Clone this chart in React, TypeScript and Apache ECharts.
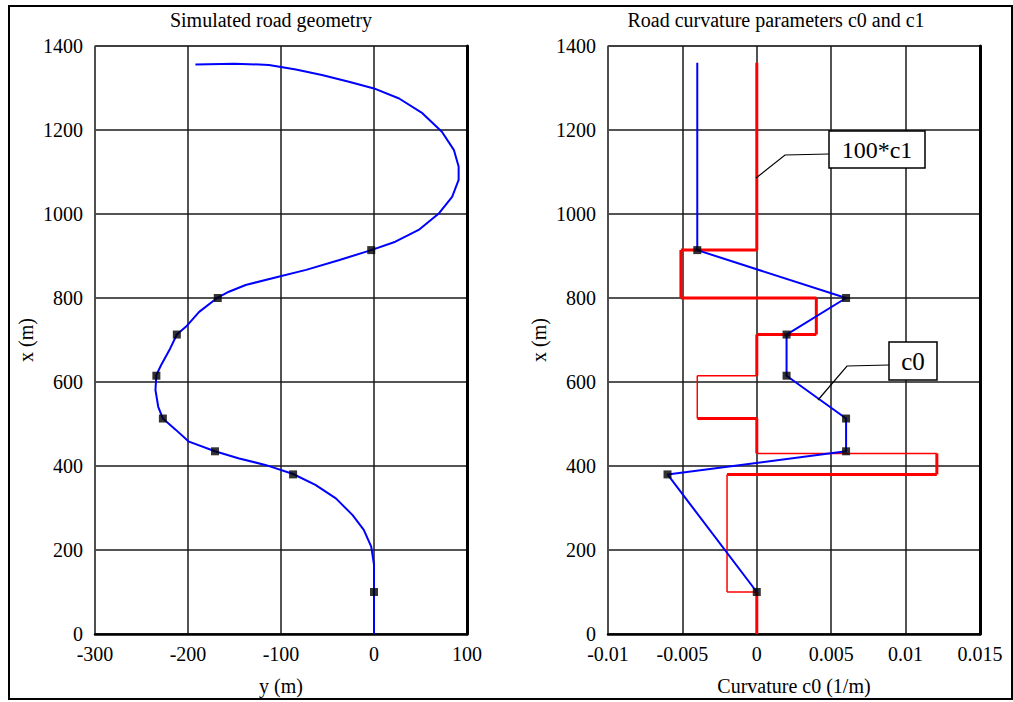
import React, { useEffect, useRef } from "react";
import * as echarts from "echarts";

// ---- Data ----
// Left chart: simulated road geometry, lateral offset y (m) vs distance x (m)
const roadLateral = [
  0, 0, 0, -3, -11, -23, -41, -63, -87, -116, -145, -171, -199, -213, -227, -232, -235,
  -234, -229, -220, -212, -202, -188, -168, -156, -138, -106, -73, -38, -3, 23, 48, 70,
  84, 91, 91, 86, 73, 52, 27, 0, -27, -56, -84, -113, -150, -192,
];
const roadAlong = [
  0, 100, 165, 208, 248, 283, 323, 355, 381, 402, 418, 435, 458, 486, 513, 541, 581,
  617, 640, 676, 713, 732, 767, 801, 815, 831, 849, 867, 890, 914, 934, 962, 1002,
  1041, 1081, 1113, 1152, 1196, 1240, 1275, 1299, 1315, 1331, 1344, 1355, 1358, 1356,
];

// Knot points (black squares)
const knotAlong = [100, 380, 435, 513, 615, 713, 800, 914];
const knotLateral = [0, -87, -171, -227, -234, -212, -168, -3];
const knotC0 = [0, -0.006, 0.006, 0.006, 0.002, 0.002, 0.006, -0.004];

// Right chart: curvature c0 (blue)
const c0Along = [100, 380, 435, 513, 615, 713, 800, 914, 1360];
const c0Values = [0, -0.006, 0.006, 0.006, 0.002, 0.002, 0.006, -0.004, -0.004];

// Right chart: 100*c1 step path (red)
const c1Along = [1360, 914, 914, 800, 800, 713, 713, 615, 615, 513, 513, 430, 430, 380, 380, 100, 100, 0];
const c1Scaled = [0, 0, -0.0051, -0.0051, 0.004, 0.004, 0, 0, -0.004, -0.004, 0, 0, 0.0121, 0.0121, -0.002, -0.002, 0, 0];

// Tick values
const alongTicks = [0, 200, 400, 600, 800, 1000, 1200, 1400];
const lateralTicks = [-300, -200, -100, 0, 100];
const curvatureTicks = [-0.01, -0.005, 0, 0.005, 0.01, 0.015];

const FONT = "Liberation Serif";
const BLUE = "#0000ff";
const RED = "#ff0000";

const fmt = (v: number) => String(Math.round(v * 100000) / 100000);

export default function App() {
  const ref = useRef<HTMLDivElement>(null);

  useEffect(() => {
    if (!ref.current) return;
    const chart = echarts.init(ref.current, undefined, { renderer: "svg" });

    const labelStyle = { fontFamily: FONT, fontSize: 20, lineHeight: 18, color: "#000", formatter: fmt };
    const splitLine = { show: true, lineStyle: { color: "#1a1a1a", width: 1.5 } };

    const mkX = (grid: number, ticks: number[]) => ({
      type: "value",
      gridIndex: grid,
      min: ticks[0],
      max: ticks[ticks.length - 1],
      interval: ticks[1] - ticks[0],
      axisLine: { show: true, onZero: false, lineStyle: { color: "#000", width: 2.5 } },
      axisTick: { show: false },
      axisLabel: { ...labelStyle, margin: 11 },
      splitLine,
    });
    const mkY = (grid: number) => ({
      type: "value",
      gridIndex: grid,
      min: alongTicks[0],
      max: alongTicks[alongTicks.length - 1],
      interval: alongTicks[1] - alongTicks[0],
      axisLine: { show: true, onZero: false, lineStyle: { color: "#555", width: 1.5 } },
      axisTick: { show: false },
      axisLabel: { ...labelStyle, margin: 12 },
      splitLine,
    });
    const mkYRight = (grid: number) => ({
      type: "value",
      gridIndex: grid,
      position: "right",
      min: alongTicks[0],
      max: alongTicks[alongTicks.length - 1],
      interval: alongTicks[1] - alongTicks[0],
      axisLine: { show: true, onZero: false, lineStyle: { color: "#000", width: 3 } },
      axisTick: { show: false },
      axisLabel: { show: false },
      splitLine: { show: false },
    });

    // red step path split into thick and thin segments
    const thinSegs = new Set([7, 8, 11, 14, 15]);
    const redSeries: any[] = [];
    for (let i = 0; i < c1Along.length - 1; i++) {
      redSeries.push({
        type: "line",
        xAxisIndex: 1,
        yAxisIndex: 2,
        data: [
          [c1Scaled[i], c1Along[i]],
          [c1Scaled[i + 1], c1Along[i + 1]],
        ],
        symbol: "none",
        lineStyle: { color: RED, width: thinSegs.has(i) ? 1.5 : 3 },
        z: 2,
      });
    }

    const text = (x: number, y: number, t: string, size: number, rotation = 0) => ({
      type: "text",
      x,
      y,
      rotation,
      z: 100,
      style: {
        text: t,
        fontFamily: FONT,
        fontSize: size,
        fill: "#000",
        align: "center",
        verticalAlign: "middle",
      },
    });

    chart.setOption({
      animation: false,
      backgroundColor: "#fff",
      grid: [
        { left: 95, top: 46, width: 372, height: 588, show: true, borderColor: "#666", borderWidth: 1 },
        { left: 608, top: 46, width: 372, height: 588, show: true, borderColor: "#666", borderWidth: 1 },
      ],
      xAxis: [mkX(0, lateralTicks), mkX(1, curvatureTicks)],
      yAxis: [mkY(0), mkYRight(0), mkY(1), mkYRight(1)],
      series: [
        {
          type: "line",
          xAxisIndex: 0,
          yAxisIndex: 0,
          data: roadLateral.map((v, i) => [v, roadAlong[i]]),
          symbol: "none",
          lineStyle: { color: BLUE, width: 2 },
          z: 3,
        },
        {
          type: "scatter",
          xAxisIndex: 0,
          yAxisIndex: 0,
          data: knotLateral.map((v, i) => [v, knotAlong[i]]),
          symbol: "rect",
          symbolSize: 8,
          itemStyle: { color: "#000" },
          z: 5,
        },
        ...redSeries,
        {
          type: "line",
          xAxisIndex: 1,
          yAxisIndex: 2,
          data: c0Values.map((v, i) => [v, c0Along[i]]),
          symbol: "none",
          lineStyle: { color: BLUE, width: 2 },
          z: 3,
        },
        {
          type: "scatter",
          xAxisIndex: 1,
          yAxisIndex: 2,
          data: knotC0.map((v, i) => [v, knotAlong[i]]),
          symbol: "rect",
          symbolSize: 8,
          itemStyle: { color: "#000" },
          z: 5,
        },
      ],
      graphic: [
        {
          type: "rect",
          shape: { x: 9, y: 6, width: 1003, height: 693 },
          style: { fill: "none", stroke: "#000", lineWidth: 2 },
          z: 100,
        },
        text(271, 20, "Simulated road geometry", 20),
        text(776, 20, "Road curvature parameters c0 and c1", 20),
        text(281, 686, "y (m)", 20),
        text(794, 686, "Curvature c0 (1/m)", 20),
        text(26, 340, "x (m)", 20, Math.PI / 2),
        text(539, 340, "x (m)", 20, Math.PI / 2),
        // 100*c1 annotation
        {
          type: "polyline",
          shape: { points: [[829, 154], [785, 155], [756, 178]] },
          style: { stroke: "#000", lineWidth: 1.2, fill: "none" },
          z: 100,
        },
        {
          type: "rect",
          shape: { x: 829, y: 131, width: 96, height: 37 },
          style: { fill: "#fff", stroke: "#000", lineWidth: 1.5 },
          z: 101,
        },
        { ...text(877, 150, "100*c1", 24), z: 102 },
        // c0 annotation
        {
          type: "polyline",
          shape: { points: [[889, 365], [847, 366], [818, 400]] },
          style: { stroke: "#000", lineWidth: 1.2, fill: "none" },
          z: 100,
        },
        {
          type: "rect",
          shape: { x: 889, y: 342, width: 48, height: 38 },
          style: { fill: "#fff", stroke: "#000", lineWidth: 1.5 },
          z: 101,
        },
        { ...text(913, 361, "c0", 25), z: 102 },
      ],
    });

    return () => chart.dispose();
  }, []);

  return (
    <div
      ref={ref}
      style={{ position: "fixed", left: 0, top: 0, width: 1013, height: 702, background: "#fff" }}
    />
  );
}
